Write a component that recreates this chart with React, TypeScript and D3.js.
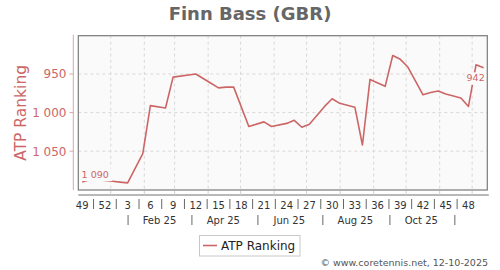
import React from "react";
import * as d3 from "d3";

// ---- data ----
const TITLE = "Finn Bass (GBR)";
const SERIES_NAME = "ATP Ranking";
// week offset from ISO week 49 of 2024 (Mon 2 Dec 2024)
const weekOffsets = [0, 1, 2, 3, 4, 5, 6, 8, 9, 11, 12, 15, 17, 18, 19, 20, 22, 24, 25, 27, 28, 29, 30, 32, 33, 34, 36, 37, 38, 40, 41, 42, 43, 45, 46, 47, 48, 50, 51, 52, 53];
const rankings = [1090, 1087, 1087, 1088, 1089, 1090, 1091, 1053, 991, 994, 954, 950, 962, 968, 967, 967, 1018, 1012, 1018, 1014, 1010, 1019, 1015, 992, 982, 988, 993, 1042, 957, 966, 926, 931, 941, 977, 974, 972, 976, 981, 992, 938, 942];
const weekLabels = ["49", "52", "3", "6", "9", "12", "15", "18", "21", "24", "27", "30", "33", "36", "39", "42", "45", "48"];
const weekLabelOffsets = [0, 3, 6, 9, 12, 15, 18, 21, 24, 27, 30, 33, 36, 39, 42, 45, 48, 51];
const monthLabels = ["Feb 25", "Apr 25", "Jun 25", "Aug 25", "Oct 25"];
const monthLabelDates = ["2025-02-15", "2025-04-15", "2025-06-15", "2025-08-15", "2025-10-15"];
const monthSepDates = ["2025-01-17", "2025-03-17", "2025-05-17", "2025-07-16", "2025-09-16", "2025-11-15"];
const yTicks = [950, 1000, 1050];
const COPYRIGHT = "© www.coretennis.net, 12-10-2025";

const START = new Date(2024, 11, 2);
const END = new Date(2025, 11, 15);
const DAY = 86400000;
const weekCenter = (k: number) => new Date(START.getTime() + (k * 7 + 3.6) * DAY);
const parse = (s: string) => { const [y, m, d] = s.split("-").map(Number); return new Date(y, m - 1, d); };

const L = 78.3, R = 487.3, T = 35.7, B = 190;
const RED = "#cc6666";
const FONT = "DejaVu Sans, Verdana, sans-serif";

export default function App() {
  const x = d3.scaleTime().domain([START, END]).range([L, R]);
  const y = d3.scaleLinear().domain([900, 1100]).range([35.4, 189.8]);
  const pts = weekOffsets.map((k, i) => [x(weekCenter(k)), y(rankings[i])] as [number, number]);
  const line = d3.line<[number, number]>().x(d => d[0]).y(d => d[1]);
  const monthGrid = d3.timeMonth.range(new Date(2025, 0, 1), new Date(2025, 11, 2));
  const fmt = (v: number) => d3.format(",")(v).replace(",", " ");

  const first = pts[0];
  const last = pts[pts.length - 1];
  const labels = [
    { text: fmt(rankings[0]), cx: first[0] + 13, by: first[1] - 4.5 },
    { text: String(rankings[rankings.length - 1]), cx: last[0] - 8, by: last[1] + 13.5 },
  ];

  return (
    <svg width={500} height={270} style={{ position: "absolute", left: 0, top: 0, fontFamily: FONT }}>
      <rect width={500} height={270} fill="#ffffff" />
      <text x={250} y={19.5} textAnchor="middle" fontSize={18} fontWeight="bold" fill="#666666">{TITLE}</text>

      <defs>
        <clipPath id="plotclip"><rect x={L} y={T} width={R - L} height={B - T} /></clipPath>
      </defs>
      <rect x={L} y={T} width={R - L} height={B - T} fill="#fafafa" />
      <g clipPath="url(#plotclip)">
        {yTicks.map(t => (
          <line key={t} x1={L} x2={R} y1={y(t)} y2={y(t)} stroke="#d8d8d8" strokeDasharray="3,3" strokeWidth={1} />
        ))}
        {monthGrid.map((d, i) => (
          <line key={i} x1={x(d)} x2={x(d)} y1={T} y2={B} stroke="#d8d8d8" strokeDasharray="3,3" strokeWidth={1} />
        ))}
      </g>
      <path d={line(pts) || ""} fill="none" stroke={RED} strokeWidth={1.6} strokeLinejoin="round" clipPath="url(#plotclip)" />
      {labels.map((lb, i) => (
        <g key={i}>
          <rect x={lb.cx - lb.text.length * 3 - 2} y={lb.by - 9} width={lb.text.length * 6 + 4} height={12.5} fill="#fafafa" />
          <text x={lb.cx} y={lb.by} textAnchor="middle" fontSize={9.5} fill={RED}>{lb.text}</text>
        </g>
      ))}
      <rect x={L} y={T} width={R - L} height={B - T} fill="none" stroke="#7a7a7a" strokeWidth={1.2} />

      {/* y axis */}
      <line x1={73.3} x2={73.3} y1={T - 1} y2={B} stroke="#dba5a5" strokeWidth={1} />
      {yTicks.map(t => (
        <g key={t}>
          <line x1={69.5} x2={73.3} y1={y(t)} y2={y(t)} stroke="#dba5a5" strokeWidth={1} />
          <text x={66.5} y={y(t)} dy="0.36em" textAnchor="end" fontSize={12} fill={RED}>{fmt(t)}</text>
        </g>
      ))}
      <text transform={`translate(25.5,${(T + B) / 2}) rotate(-90)`} textAnchor="middle" fontSize={15.5} fill={RED}>{SERIES_NAME}</text>

      {/* x axis */}
      <line x1={L} x2={R + 1.5} y1={195} y2={195} stroke="#a0a0a0" strokeWidth={1.3} />
      {monthGrid.map((d, i) => (
        <line key={i} x1={x(d)} x2={x(d)} y1={191} y2={195} stroke="#cfcfcf" strokeWidth={1} />
      ))}
      {weekLabels.map((lb, i) => (
        <text key={lb + i} x={x(weekCenter(weekLabelOffsets[i]))} y={208.5} textAnchor="middle" fontSize={10} fill="#333">{lb}</text>
      ))}
      {weekLabelOffsets.slice(0, -1).map((k, i) => {
        const xs = (x(weekCenter(k)) + x(weekCenter(weekLabelOffsets[i + 1]))) / 2;
        return <line key={i} x1={xs} x2={xs} y1={199} y2={209} stroke="#555" strokeWidth={0.9} />;
      })}
      {monthLabels.map((lb, i) => (
        <text key={lb} x={x(parse(monthLabelDates[i]))} y={224} textAnchor="middle" fontSize={10} fill="#333">{lb}</text>
      ))}
      {monthSepDates.map((s, i) => (
        <line key={i} x1={x(parse(s))} x2={x(parse(s))} y1={215} y2={225} stroke="#555" strokeWidth={0.9} />
      ))}

      {/* legend */}
      <rect x={199.5} y={235.5} width={100.5} height={20.5} fill="#fff" stroke="#c8c8c8" strokeWidth={1} />
      <line x1={203} x2={217} y1={245.5} y2={245.5} stroke={RED} strokeWidth={1.6} />
      <text x={221} y={250} fontSize={12} fill="#222">{SERIES_NAME}</text>

      <text x={488} y={266} textAnchor="end" fontSize={9.5} fill="#555">{COPYRIGHT}</text>
    </svg>
  );
}
